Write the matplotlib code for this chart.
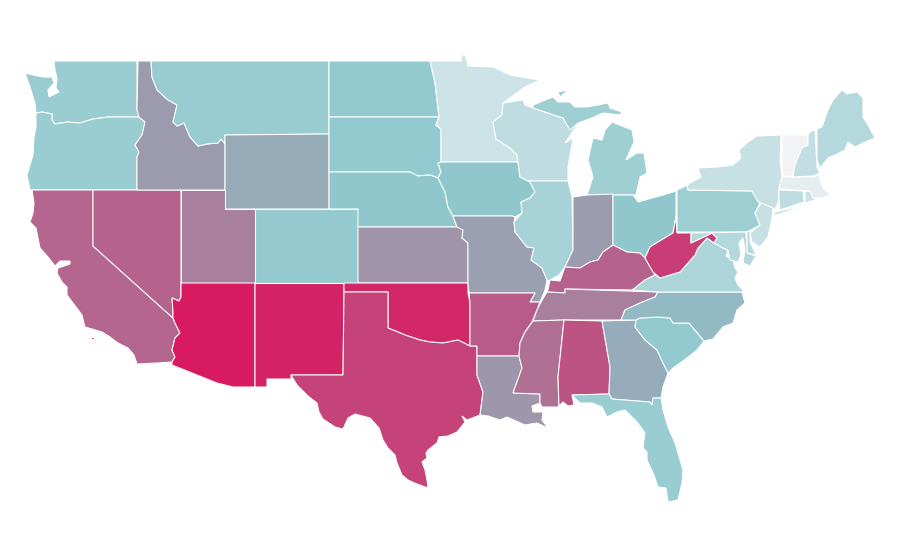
import matplotlib
matplotlib.use('Agg')
import matplotlib.pyplot as plt
from matplotlib.colors import LinearSegmentedColormap, Normalize
from matplotlib.patches import Polygon

# state outlines (x, y in picture pixels)
WA = [(54,61),(137,61),(137,110),(139,117),(108,117),(93,119),(80,123),(67,122),(55,124),(52,120),(52,114),(42,112),(36,113),(35,103),(30,87),(25,73),(33,75),(43,77),(52,77),(54,83),(48,90),(49,97),(59,92),(56,88),(57,78),(55,70)]
OR = [(36,113),(42,112),(52,114),(52,120),(55,124),(67,122),(80,123),(93,119),(108,117),(139,117),(145,122),(142,135),(135,145),(139,152),(137,157),(137,190),(30,190),(27,175),(30,165),(33,155),(34,137),(36,127)]
CA = [(32,190),(93,190),(93,246),(173,318),(175,323),(180,333),(175,338),(172,350),(175,357),(172,362),(157,363),(137,364),(134,355),(128,348),(118,343),(110,337),(102,332),(92,329),(85,327),(82,315),(73,303),(67,295),(67,287),(62,282),(57,273),(58,268),(70,264),(70,261),(60,261),(55,266),(48,257),(40,248),(38,238),(36,228),(30,222),(33,213),(34,203)]
CA_ISLAND = [(91,337),(94,337),(94,339),(91,339)]
NV = [(93,190),(181,190),(181,297),(179,301),(172,298),(173,312),(173,318),(93,246)]
ID = [(138,61),(151,61),(152,77),(157,90),(168,100),(177,105),(173,122),(177,126),(184,123),(190,137),(198,146),(207,144),(218,143),(221,139),(225,144),(225,190),(137,190),(137,157),(139,152),(135,145),(142,135),(145,122),(139,117),(137,110)]
MT = [(151,61),(329,61),(329,134),(225,135),(225,144),(221,139),(218,143),(207,144),(198,146),(190,137),(184,123),(177,126),(173,122),(177,105),(168,100),(157,90),(152,77)]
WY = [(225,135),(329,134),(329,209),(225,209)]
UT = [(181,190),(225,190),(225,209),(255,209),(255,283),(181,283)]
AZ = [(181,283),(255,283),(255,387),(233,387),(217,383),(172,365),(172,362),(175,357),(172,350),(175,338),(180,333),(175,323),(173,318),(173,312),(172,298),(179,301),(181,297)]
NM = [(255,283),(344,283),(344,292),(343,375),(291,375),(291,379),(267,379),(267,387),(255,387)]
CO = [(255,209),(358,209),(358,283),(255,283)]
ND = [(329,61),(430,61),(435,83),(439,117),(329,117)]
SD = [(329,117),(439,117),(436,125),(441,129),(441,162),(438,163),(441,172),(438,178),(430,175),(418,176),(410,172),(329,172)]
NE = [(329,172),(410,172),(418,176),(430,175),(438,178),(445,192),(448,207),(453,216),(457,227),(358,227),(358,209),(329,209)]
KS = [(358,227),(457,227),(463,230),(462,238),(468,243),(468,283),(358,283)]
OK = [(344,283),(468,283),(468,293),(470,303),(470,346),(458,340),(443,343),(430,342),(420,340),(405,335),(398,332),(388,328),(388,292),(344,292)]
TX = [(344,292),(388,292),(388,328),(398,332),(405,335),(420,340),(430,342),(443,343),(458,340),(470,346),(477,346),(477,375),(483,392),(480,415),(467,420),(462,416),(465,422),(457,432),(448,436),(439,437),(437,443),(428,450),(426,453),(427,458),(422,462),(425,470),(427,480),(428,488),(417,484),(408,480),(402,475),(397,463),(395,455),(388,448),(383,440),(379,428),(370,418),(355,414),(348,418),(343,429),(335,427),(323,419),(319,412),(317,403),(308,396),(297,385),(291,375),(343,375)]
MN = [(430,61),(461,61),(462,55),(465,55),(468,66),(493,67),(510,75),(540,80),(525,87),(503,103),(502,115),(493,122),(496,139),(510,148),(517,155),(518,162),(441,162),(441,129),(436,125),(439,117),(435,83)]
IA = [(441,162),(518,162),(520,177),(530,182),(535,192),(530,198),(521,202),(522,213),(515,217),(512,216),(453,216),(448,207),(445,192),(438,178),(441,172),(438,163)]
MO = [(453,216),(512,216),(515,217),(514,222),(515,232),(527,247),(534,248),(531,260),(542,268),(547,280),(545,290),(540,302),(530,302),(535,293),(469,293),(468,283),(468,243),(462,238),(463,230),(457,227)]
AR = [(469,293),(535,293),(530,302),(540,302),(537,310),(532,322),(525,332),(520,343),(519,356),(477,356),(477,346),(470,346),(470,303)]
LA = [(477,356),(519,356),(522,368),(513,393),(540,394),(540,403),(532,406),(533,412),(543,412),(542,420),(548,428),(537,423),(525,425),(507,417),(500,420),(488,416),(480,415),(483,392),(477,375)]
WI = [(503,103),(523,100),(525,105),(533,108),(563,118),(570,128),(577,125),(565,143),(573,138),(568,167),(568,181),(528,181),(520,177),(518,162),(517,155),(510,148),(496,139),(493,122),(502,115)]
IL = [(528,181),(568,181),(572,197),(573,250),(565,267),(559,275),(548,281),(547,280),(542,268),(531,260),(534,248),(527,247),(515,232),(514,222),(522,213),(521,202),(530,198),(535,192),(530,182)]
MI_UPPER = [(533,108),(533,105),(553,97),(558,102),(570,102),(575,107),(587,107),(608,103),(610,108),(622,112),(620,115),(603,113),(592,118),(578,123),(570,130),(563,118)]
MI_KEWEENAW = [(558,92),(568,90),(560,97)]
MI_LOWER = [(587,195),(613,195),(636,195),(640,177),(647,173),(644,153),(637,153),(626,160),(634,142),(632,130),(612,122),(605,130),(602,140),(593,138),(588,160),(593,177)]
IN = [(573,197),(587,195),(613,194),(613,245),(603,252),(598,260),(590,262),(580,268),(565,267),(573,250)]
OH = [(613,195),(633,195),(638,202),(663,195),(676,191),(676,217),(673,233),(658,242),(650,247),(645,258),(640,253),(627,252),(613,245)]
KY = [(548,290),(550,280),(560,281),(565,267),(580,268),(590,262),(598,260),(603,252),(613,245),(627,252),(640,253),(645,258),(655,275),(645,280),(635,288),(632,290),(565,289),(565,293),(547,292)]
TN = [(547,292),(565,293),(565,289),(658,292),(655,297),(640,303),(625,310),(621,320),(564,320),(533,321),(537,310),(541,302)]
MS = [(533,321),(564,320),(558,377),(559,407),(542,407),(540,403),(540,394),(513,393),(522,368),(519,356),(520,343),(525,332)]
AL = [(564,320),(602,321),(610,367),(609,394),(572,395),(574,405),(568,406),(563,402),(560,405),(559,407),(558,377)]
GA = [(602,321),(636,320),(635,327),(645,340),(657,350),(663,363),(668,373),(663,387),(661,398),(653,398),(652,405),(650,402),(612,399),(609,394),(610,367)]
FL = [(572,395),(609,394),(612,399),(650,402),(652,405),(653,398),(661,398),(663,410),(668,427),(675,443),(683,470),(682,483),(678,500),(668,502),(666,488),(658,487),(654,475),(647,460),(647,452),(643,448),(645,433),(637,422),(625,410),(617,412),(607,417),(602,407),(592,403),(580,403)]
SC = [(636,320),(640,318),(658,317),(670,318),(673,323),(689,323),(704,341),(697,350),(687,358),(673,368),(668,373),(663,363),(657,350),(645,340),(635,327)]
NC = [(658,292),(742,292),(745,303),(737,310),(733,323),(723,327),(713,339),(704,341),(689,323),(673,323),(670,318),(658,317),(640,318),(636,320),(621,320),(625,310),(640,303),(655,297)]
VA = [(635,288),(645,280),(655,275),(660,278),(680,272),(695,255),(698,248),(707,238),(714,243),(723,248),(728,250),(726,256),(733,260),(735,268),(738,272),(735,278),(738,285),(743,290),(742,292),(658,292),(632,290)]
WV = [(676,217),(677,233),(691,233),(691,243),(708,235),(712,233),(717,238),(714,243),(707,238),(698,248),(695,255),(680,272),(660,278),(653,272),(645,258),(650,247),(658,242),(673,233)]
PA = [(677,190),(688,185),(688,190),(752,191),(757,200),(760,203),(755,213),(760,225),(747,232),(677,232)]
NY = [(688,190),(687,185),(701,177),(698,168),(718,167),(733,165),(741,158),(739,150),(748,142),(757,136),(781,135),(780,162),(782,177),(779,188),(779,200),(775,210),(773,208),(760,203),(757,200),(752,191)]
NY_LONG_ISLAND = [(775,212),(802,206),(783,213),(773,216)]
NJ = [(761,203),(773,208),(772,218),(768,237),(760,247),(752,242),(750,233),(760,225),(755,213)]
DE = [(747,232),(750,231),(750,242),(756,255),(747,253)]
MD = [(691,233),(746,232),(747,253),(756,256),(750,266),(743,263),(745,250),(743,238),(739,243),(741,255),(738,262),(730,260),(728,250),(723,248),(714,243),(717,238),(712,233),(708,235),(691,243)]
CT = [(779,190),(803,191),(804,202),(780,210),(779,200)]
RI = [(805,191),(812,191),(815,200),(805,203)]
MA = [(782,177),(813,177),(819,175),(821,183),(823,188),(830,195),(822,198),(813,198),(810,191),(779,189)]
VT = [(782,135),(808,135),(808,145),(802,148),(795,165),(792,176),(783,176),(782,162)]
NH = [(811,131),(815,130),(817,167),(820,173),(813,176),(793,177),(795,165),(802,148),(808,145),(808,135)]
ME = [(817,129),(822,127),(828,110),(833,100),(842,90),(847,94),(857,92),(863,98),(863,117),(868,125),(875,138),(865,142),(855,147),(848,142),(845,150),(835,155),(828,158),(820,168),(817,160)]

shapes = [WA, OR, CA, CA_ISLAND, NV, ID, MT, WY, UT, AZ, NM, CO, ND, SD, NE, KS, OK, TX, MN, IA, MO, AR, LA, WI, IL,
          MI_UPPER, MI_KEWEENAW, MI_LOWER, IN, OH, KY, TN, MS, AL, GA, FL, SC, NC, VA, WV, PA, NY, NY_LONG_ISLAND,
          NJ, DE, MD, CT, RI, MA, VT, NH, ME]
# one value per shape, estimated from the fill colour
values = [44.5, 44.5, 74.5, 74.5, 75, 60, 45.5, 56.5, 67.5, 100, 97, 47.5, 48, 48, 50, 61.5, 95.5, 86, 18, 50, 58.7, 78, 61, 26, 38,
          42, 42, 42, 59.5, 50, 75, 67.5, 71.7, 80.5, 56, 44.5, 48, 53, 35, 88, 43, 22, 22,
          22, 31, 31, 26, 20, 6, 0, 24, 31]

stops = [(0.0, '#f2f3f5'), (0.5, '#8fc8cd'), (0.6, '#9c9aad'), (0.75, '#b5648d'), (1.0, '#d81b60')]
cmap = LinearSegmentedColormap.from_list('map_scale', stops)
norm = Normalize(0, 100)

fig = plt.figure(figsize=(9, 5.6), dpi=100)
ax = fig.add_axes([0, 0, 1, 1])
for pts, v in zip(shapes, values):
    ax.add_patch(Polygon(pts, closed=True, facecolor=cmap(norm(v)), edgecolor='white', linewidth=0.75))
ax.set_xlim(0, 900)
ax.set_ylim(560, 0)
ax.axis('off')
fig.savefig('out.png', dpi=100)
